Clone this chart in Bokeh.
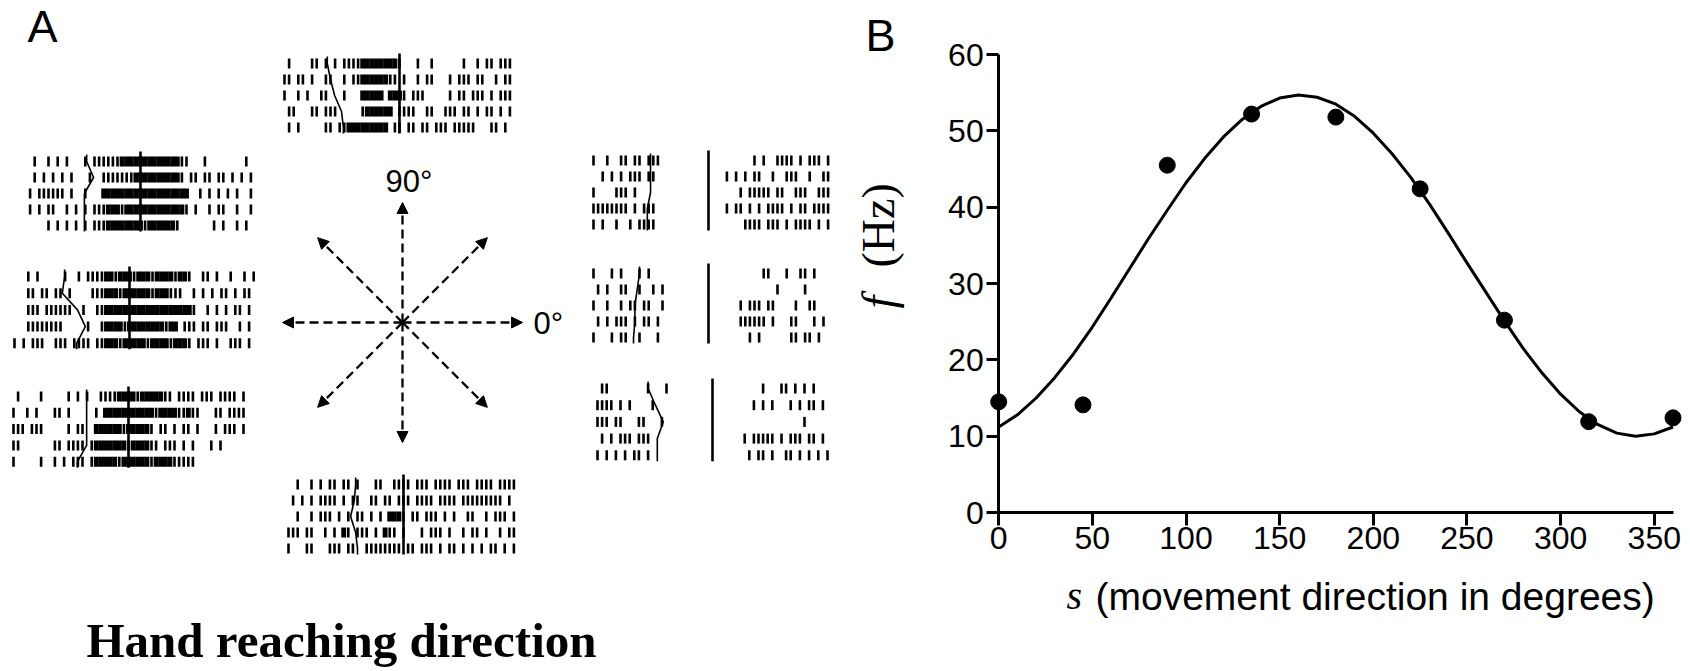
import numpy as np
from bokeh.plotting import figure
from bokeh.models import Range1d, Label, Arrow, NormalHead, SingleIntervalTicker
from bokeh.layouts import row
from bokeh.embed import file_html
from bokeh.resources import INLINE

# ---------------- Panel B data ----------------
directions = [0, 45, 90, 135, 180, 225, 270, 315, 360]
rates = [14.5, 14.1, 45.5, 52.2, 51.8, 42.4, 25.2, 11.9, 12.4]
fit_s = list(range(0, 361, 10))
fit_f = [11.2, 12.8, 15.0, 17.7, 20.8, 24.3, 28.1, 32.0, 35.9, 39.6, 43.2, 46.4,
         49.2, 51.5, 53.2, 54.3, 54.7, 54.4, 53.5, 51.9, 49.7, 47.0, 43.9, 40.4,
         36.6, 32.7, 28.9, 25.1, 21.5, 18.3, 15.5, 13.2, 11.5, 10.4, 10.0, 10.3, 11.2]
x_ticks_step = 50
y_ticks_step = 10

# ---------------- Panel A data ----------------
# each trial: 30 ms bins, '|' = spike, '#' = burst, '.' = none; bin 25 = movement onset
arrow_dirs = [0, 45, 90, 135, 180, 225, 270, 315]
BIN_MS = 30
ONSET_BIN = 25

raster_90 = [
    ".|....||.| .|.||||### #####|...| ..|......| ..|.||.|||",
    "||.||.|..| |..|.||### ###||.|..| .||...|.|| |.||..|.||",
    "|..|.|..|| ...|...### ##.###|.|| |.....|.|| .|||.|.|||",
    ".||...||.| ||.....|## ####.||||. .||..|||.| |.|.||.|.|",
    ".|.|.....| |.||###### ###.||.||. ||.|||.||| ||...||.|.",
]
raster_135 = [
    "..|..|.|.| ...|.||||| |######### ####||...| ........|.",
    "..|.|.|.|. |...|..||| ||||###### ####|.||.| |.||.|.|.|",
    ".|.||||||. |..|...### ########## ######..|. |.|.|.|..|",
    ".|.|.||..| .|.|.|||## #|######## #####|.|.. |.||..|..|",
    ".....|.|.| .|.|.|||## ######|### ###|...... .|.|..|.|.",
]
raster_180 = [
    "...|.|.... .|..|.|||| ##|###|### |####|##|. .||.|..|.. |.|",
    "...||.||.| |.|....||| ###|###### |###|||..| .|.|.||.|. ||",
    "...|||.||| |||..|..|| ########## #########| ..|.|.|.|| .|",
    "...||||||| |.....|..| ####|##### ###|##.||| .||.|||..| .|.",
    "|.|.|||..| ||.||||.|| ###|#####| ####|###|. |||.|..||| .|",
]
raster_225 = [
    ".|....|... ..|.|.|..| |||####|## ###||.|||| .|||.||||. |",
    "|..|.|...| |.|.....|. ########## #|####||#| |...||.||| |",
    "|||.|||... ..|.||..## ####|##### |.||.|.||. |...|.|||. |",
    "||.......| |.||||.|## #####|#### ||.|||.|.| ...|.|....",
    "|.....|..| .|.|||.|## ###|###### |####|||||",
]
raster_270 = [
    "..|..|.|.| |.||.|...| |..||||.|| |.||||.||| .||||.||||",
    ".|.|.|.||| |.|.||..|| .||.|||.|| ||.||||.|| |||||||.|.",
    "..|..|.||| .|.|.||.|. |.###|.||. |||.|.|..| |..|.|||.|",
    "|||.||..|. |.#|.|||.| .#||.|...| .|||.|..|. ||.|..|.||",
    "|...||...| ||.||..||| |||||.||.| ||.|.||.|. |.|.||.|.|",
]
raster_45 = [
    "|..|..||.| |.|||..... .......... .....|.|.. ||||.|.||| .|.",
    "..|.|.|.|| |.||...... .........| .|.|.||..| ..|||..|.. ||.",
    "|....|||.| .......... .......... ..|.|||||. ||..|||..| ||.",
    "||||||||.| .|||...... .........| .||.|.|.|| ||.|.||.|| ||.",
    "|.|..|..|. ||||...... .......... ...||||.|| |.|.||||.| .|.",
]
raster_0 = [
    "|...|.|... |.|....... .......... .......||. ..|..||.|.",
    ".|.|..||.. |..|.|.... .......... .......... |.....|...",
    "|..|..|.|| .||..|.... .......... ..|.|||.|| ....|..||.",
    ".|.|.|||.| .||.|..... .......... ..||||||.| ...||...|. |",
    "|...|.||.. |...|..... .......... ....|.|... ...||.||.|",
]
raster_315 = [
    ".||....... .|...|.... .......... ......|... ||.|.|.|..",
    "||||.|.|.. ..|....... .......... ....|.|.|. ..|.|.||.|",
    "|||.||...| |...|..... .......... .......... .....|....",
    ".|.|.|||.| ||........ .......... ..|.|||||. |.|||.||.|",
    "|.|.|.|.|| .|........ .......... ...|.||.|. .||.|.|.|. |",
]
rasters = {90: raster_90, 135: raster_135, 180: raster_180, 225: raster_225,
           270: raster_270, 45: raster_45, 0: raster_0, 315: raster_315}

# target-onset bin per trial (wavy connector)
target_bins = {
    90: [9.3, 10.0, 10.9, 12.4, 12.8],
    135: [13.3, 14.8, 12.8, 12.8, 12.8],
    180: [10.9, 10.4, 13.7, 15.4, 13.5],
    225: [15.9, 15.9, 15.9, 15.9, 13.9],
    270: [14.6, 14.3, 13.5, 14.6, 15.0],
    45: [12.4, 12.4, 12.4, 11.7, 11.7],
    0: [10.0, 9.5, 9.0, 9.0, 8.7],
    315: [11.0, 12.6, 14.3, 13.0, 13.0],
}

# ---------------- Layout (positions / sizes) ----------------
PX_PER_MS = 4.6 / 30.0
block_layout = {  # direction: (movement-onset line x, first row y, row pitch)
    90: (399, 63, 16.0), 135: (140, 161, 16.0), 180: (129, 276, 16.7),
    225: (128, 396, 16.3), 270: (403, 484, 16.0),
    45: (708, 160, 16.0), 0: (708, 273, 16.0), 315: (712, 388, 16.7),
}
ARROW_CENTER = (402, 322)
ARROW_LEN = 120
TICK_HALF = 5.0
WA, WB, H = 850, 840, 671
LIFT = 0.37      # label baseline correction (fraction of font size)

# ---------------- Panel A ----------------
pa = figure(width=WA, height=H, x_range=Range1d(0, WA), y_range=Range1d(H, 0),
            output_backend="svg", toolbar_location=None, x_axis_location=None,
            y_axis_location=None, min_border=0)
pa.grid.visible = False
pa.outline_line_color = None

thin = dict(left=[], right=[], top=[], bottom=[])
thick = dict(left=[], right=[], top=[], bottom=[])
for d, trials in rasters.items():
    lx, y0, pitch = block_layout[d]
    for k, s in enumerate(trials):
        s = s.replace(" ", "")
        yc = y0 + k * pitch
        for i, ch in enumerate(s):
            t = (i - ONSET_BIN) * BIN_MS
            xc = lx + t * PX_PER_MS
            if ch == "|":
                tgt, hw = thin, 1.3
            elif ch == "#":
                tgt, hw = thick, 2.45
            else:
                continue
            tgt["left"].append(xc - hw)
            tgt["right"].append(xc + hw)
            tgt["top"].append(yc - TICK_HALF)
            tgt["bottom"].append(yc + TICK_HALF)
    # movement onset line
    pa.segment(x0=[lx], y0=[y0 - 10], x1=[lx], y1=[y0 + 4 * pitch + 6],
               line_color="black", line_width=2.6)
    # target onset connector
    tx = [lx + (b - ONSET_BIN) * BIN_MS * PX_PER_MS for b in target_bins[d]]
    ty = [y0 + k * pitch for k in range(5)]
    pa.line([tx[0]] + tx + [tx[-1]], [ty[0] - 7] + ty + [ty[-1] + 6],
            line_color="black", line_width=1.6)

pa.quad(line_color=None, fill_color="black", **thin)
pa.quad(line_color=None, fill_color="black", **thick)

cx, cy = ARROW_CENTER
for a in arrow_dirs:
    r = np.deg2rad(a)
    pa.add_layout(Arrow(x_start=cx, y_start=cy,
                        x_end=cx + ARROW_LEN * np.cos(r), y_end=cy - ARROW_LEN * np.sin(r),
                        line_color="black", line_width=2.3, line_dash="9 5",
                        end=NormalHead(size=11, fill_color="black", line_color="black",
                                       line_width=1)))


def a_label(x, base_y, text, size, font="Liberation Sans", style="normal"):
    pa.add_layout(Label(x=x, y=base_y - LIFT * size, text=text, text_font=font,
                        text_font_style=style, text_font_size=f"{size}px",
                        text_baseline="alphabetic", text_color="black"))


a_label(27, 43, "A", 45)
a_label(385, 192, "90°", 31)
a_label(533, 334, "0°", 31)
a_label(86, 658, "Hand reaching direction", 49, font="Liberation Serif", style="bold")

# ---------------- Panel B ----------------
# frame covers the whole canvas; axes are pinned at s=0 and f=0
SX = 1.8731          # px per degree
SY = 7.633           # px per Hz
X0_PX, Y0_PX = 998.2, 512.0
xr = Range1d((WA - X0_PX) / SX, (WA + WB - X0_PX) / SX)
yr = Range1d((Y0_PX - H) / SY, Y0_PX / SY)

pb = figure(width=WB, height=H, x_range=xr, y_range=yr,
            output_backend="svg", toolbar_location=None, min_border=0)
pb.grid.visible = False
pb.outline_line_color = None

pb.line(fit_s, fit_f, line_color="black", line_width=3)
pb.scatter(directions, rates, size=16, color="black")

for ax in (pb.xaxis[0], pb.yaxis[0]):
    ax.fixed_location = 0
    ax.axis_line_width = 3
    ax.axis_line_color = "black"
    ax.major_tick_line_width = 3
    ax.major_tick_line_color = "black"
    ax.major_tick_in = 0
    ax.minor_tick_out = 0
    ax.minor_tick_in = 0
    ax.major_label_text_font = "Liberation Sans"
    ax.major_label_text_font_size = "32px"
    ax.major_label_text_color = "black"

pb.xaxis[0].ticker = SingleIntervalTicker(interval=x_ticks_step)
pb.xaxis[0].bounds = (0, 360)
pb.xaxis[0].major_tick_out = 13
pb.xaxis[0].major_label_standoff = 1
pb.yaxis[0].ticker = SingleIntervalTicker(interval=y_ticks_step)
pb.yaxis[0].bounds = (0, 60)
pb.yaxis[0].major_tick_out = 12
pb.yaxis[0].major_label_standoff = 3


def px_x(px):
    return (px - X0_PX) / SX


def px_y(px):
    return (Y0_PX - px) / SY


def b_label(xpx, base_ypx, text, size, font="Liberation Sans", style="normal"):
    pb.add_layout(Label(x=px_x(xpx), y=px_y(base_ypx - LIFT * size), text=text,
                        text_font=font, text_font_style=style,
                        text_font_size=f"{size}px", text_baseline="alphabetic",
                        text_color="black"))


b_label(865, 52, "B", 45)
b_label(1066, 610, "s", 40, font="Liberation Serif", style="italic")
b_label(1095, 610, "(movement direction in degrees)", 39)

YLAB_SIZE = 46
ylab_x = px_x(899 - 0.45 * YLAB_SIZE)
pb.add_layout(Label(x=ylab_x, y=px_y(308), text="f", text_font="Liberation Serif",
                    text_font_style="italic", text_font_size=f"{YLAB_SIZE}px",
                    angle=np.pi / 2, text_align="left", text_baseline="middle",
                    text_color="black"))
pb.add_layout(Label(x=ylab_x, y=px_y(267), text="(Hz)", text_font="Liberation Serif",
                    text_font_size=f"{YLAB_SIZE}px", angle=np.pi / 2,
                    text_align="left", text_baseline="middle", text_color="black"))

layout = row(pa, pb)
open("out.html", "w").write(file_html(layout, INLINE))
